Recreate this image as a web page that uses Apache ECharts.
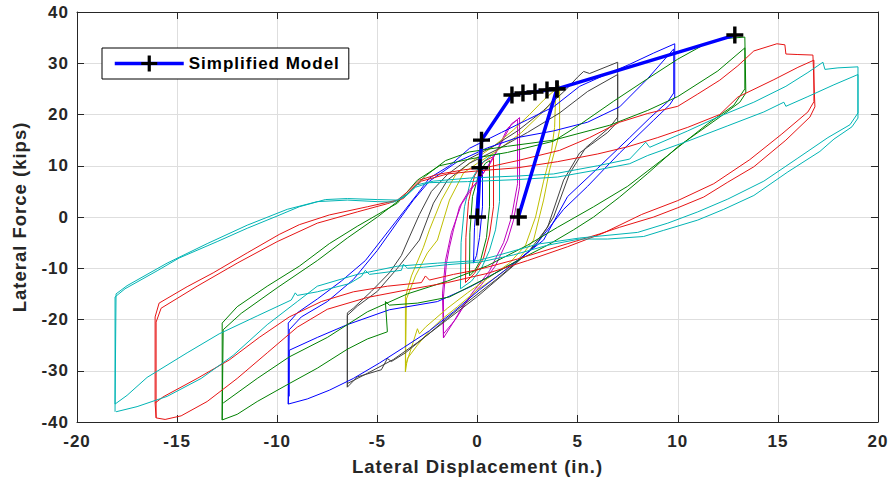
<!DOCTYPE html>
<html><head><meta charset="utf-8">
<script src="https://cdn.jsdelivr.net/npm/echarts@6/dist/echarts.min.js"></script>
<style>
html,body{margin:0;padding:0;background:#fff;}
#chart{width:891px;height:482px;}
#chart svg text{letter-spacing:1px;}
</style>
</head><body><div id="chart"></div>
<script>
// ---- axis ticks ----
const xTicks = [-20,-15,-10,-5,0,5,10,15,20];
const yTicks = [-40,-30,-20,-10,0,10,20,30,40];

// ---- measured hysteresis loops (displacement in., force kips) ----
const blueTiny = [[-0.2,-9],[-0.15,-2],[0,5],[0.15,8.5],[0.25,9.8],[0.25,2],[0.1,-4],[-0.05,-7.5],[-0.2,-9]];
const greenTiny = [[-0.4,-11.5],[-0.38,-3],[-0.25,4],[0.1,8.8],[0.4,10.5],[0.6,11],[0.6,2],[0.45,-4],[0.15,-8.5],[-0.15,-10.5],[-0.4,-11.5]];
const redTiny = [[-0.6,-12.8],[-0.58,-4],[-0.45,3],[-0.15,8],[0.3,10.8],[0.8,11.8],[0.8,2],[0.6,-3.5],[0.3,-8],[-0.15,-11],[-0.6,-12.8]];
const cyanTiny = [[-0.85,-14],[-0.82,-5],[-0.65,2],[-0.35,7],[0.2,10.5],[0.7,12],[1.1,12.4],[1.1,3],[0.9,-2.5],[0.6,-6.5],[0.2,-10],[-0.3,-12.5],[-0.85,-14]];

const magentaLoop = [[-1.7,-23.6],[-1.7,-15.6],[-1.55,-9],[-1.4,-5.9],[-1.2,-2.5],[-0.9,2],[-0.4,5.3],[0,6.8],[0.5,9.8],[1.0,13.2],[1.5,17.3],[2.1,19.4],[2.1,5.9],[1.8,-0.6],[1.5,-4.5],[0.9,-9.5],[0.2,-13.2],[-0.7,-17.2],[-1.2,-20.5],[-1.7,-23.6],
 [-1.75,-15],[-1.6,-8.5],[-1.3,-3],[-0.8,2.5],[-0.2,6],[0.6,10.2],[1.2,14.5],[1.7,18.2],[2.0,19.0],[2.0,6.5],[1.7,0],[1.3,-5],[0.6,-10.5],[-0.3,-15],[-1.1,-20],[-1.7,-22.8]];

const yellowLoop = [[-3.6,-30.2],[-3.6,-15.6],[-3.3,-11.5],[-2.7,-5.9],[-2.4,-2.5],[-1.8,3.3],[-1.1,8.2],[-0.3,10.8],[0.8,13.8],[1.8,17.0],[2.6,20.0],[3.3,22.8],[4.1,25.6],[4.1,17.0],[4.0,15.0],[3.6,9.2],[3.3,3.3],[2.8,-4.5],[2.0,-8.5],[1.0,-11.5],[0,-14.2],[-1.0,-17.5],[-1.8,-20],[-2.4,-22.2],[-3.0,-25],[-3.5,-27.6],[-3.6,-30.2],
 [-3.55,-16],[-3.1,-11.5],[-2.5,-7],[-2.0,-4.5],[-1.4,3.3],[-0.7,8.6],[0,10.5],[1.0,13],[2.2,16.5],[3.4,21],[3.9,23.5],[3.85,17.5],[3.7,13],[3.3,7],[2.9,0],[2.4,-5.5],[1.6,-9],[0.5,-12],[-0.5,-14.8],[-1.5,-17.8],[-2.6,-21.5],[-2.9,-22.8],[-3.0,-21.8],[-3.3,-25.5],[-3.55,-28.5]];

const grayLoop = [[-6.5,-33.2],[-6.5,-18.7],[-6.2,-17.8],[-5.3,-14.5],[-4.4,-10.9],[-3.8,-7.5],[-3.4,-3.9],[-2.9,0.5],[-2.3,5.0],[-1.5,8.3],[-0.5,11.2],[0.8,13.8],[2.0,16.8],[3.3,20.8],[4.4,24.8],[5.0,27.3],[5.3,28.4],[5.6,28.0],[7.0,30.2],[7.0,18.6],[6.5,16.5],[5.1,12.5],[4.3,7.2],[3.5,-2],[2.5,-7],[1.0,-12],[-1.0,-18.1],[-2.5,-23],[-3.6,-26.5],[-4.3,-28.2],[-4.5,-27.6],[-4.8,-29.8],[-6.0,-31.2],[-6.5,-33.2],
 [-6.5,-19.2],[-6.0,-17.4],[-5.0,-14.5],[-4.0,-10],[-2.9,-4.5],[-2.2,2.7],[-1.5,7.2],[-0.4,10.5],[1.0,13.2],[2.5,16.5],[4.1,20.3],[5.5,24.5],[7.0,27.8],[7.0,19.5],[6.6,17.5],[5.4,13.5],[4.6,8.5],[3.8,0],[3.0,-5],[1.8,-9.5],[0,-15.5],[-1.5,-20],[-3.0,-24.5],[-4.2,-27.8],[-5.5,-30.5],[-6.5,-32.5]];

const blueLoop = [[-9.45,-36.5],[-9.45,-20.7],[-9.0,-18.7],[-8.0,-16.0],[-6.8,-12.5],[-5.6,-8.5],[-4.4,-2.5],[-3.6,1.5],[-3.0,4.5],[-2.4,7.6],[-1.4,10.0],[-0.4,13.4],[1.2,16.5],[2.5,19.0],[3.8,21.5],[5.1,25.5],[6.3,27.6],[7.6,29.8],[8.8,32.0],[9.85,33.8],[9.85,23.4],[9.6,21.9],[8.8,18.9],[7.1,12.5],[5.5,6.0],[4.3,1.5],[3.6,-2.0],[2.8,-6],[1.5,-10],[0.1,-14.2],[-1.2,-18.5],[-2.4,-22.2],[-3.7,-25.5],[-4.9,-28.5],[-6.2,-31.5],[-7.4,-33.8],[-8.5,-35.5],[-9.45,-36.5],
 [-9.4,-22],[-8.8,-19.5],[-7.5,-16.5],[-6.2,-12.2],[-5.0,-6.5],[-4.0,-1.0],[-3.2,3.3],[-2.4,7.0],[-1.0,10.8],[0.5,13.5],[2.0,15.5],[3.8,16.8],[5.5,18.5],[7.1,21.5],[8.5,27.0],[9.8,32.8],[9.8,24.2],[9.5,22.5],[8.6,19.3],[7.6,15.5],[6.0,9.5],[4.5,4],[3.3,-4.5],[2.0,-8.5],[0.5,-11.8],[-0.4,-13.7],[-2.0,-16.5],[-4.4,-18.1],[-6.5,-21],[-8.0,-23.5],[-9.4,-26],[-9.4,-35]];

const greenLoop = [[-12.75,-39.6],[-12.75,-20.7],[-12.0,-17.5],[-10.5,-13.5],[-8.9,-9.6],[-7.4,-5.2],[-6.0,-1.8],[-4.0,2.7],[-3.0,7.2],[-1.9,10.0],[-0.4,11.3],[1.5,12.6],[3.8,14.8],[5.1,18.0],[6.8,22.6],[8.5,27.0],[10.0,30.8],[11.3,33.6],[12.3,34.8],[13.35,35.1],[13.4,24.2],[13.1,22.4],[12.1,19.5],[10.0,13.7],[8.5,8.5],[7.1,3.9],[5.8,0],[4.8,-2.5],[3.5,-5.5],[2.0,-8.5],[0.5,-11.8],[-1.4,-15.6],[-3.0,-16.8],[-4.4,-17.2],[-4.6,-16.5],[-4.5,-22.4],[-5.5,-23.8],[-6.5,-25.8],[-8.0,-29.5],[-9.4,-32.5],[-11.0,-36.0],[-12.0,-38.5],[-12.75,-39.6],
 [-12.7,-22.0],[-11.8,-18.8],[-10.0,-13.8],[-8.0,-8.5],[-6.5,-4.1],[-5.0,0],[-3.5,4.5],[-2.6,8.0],[-1.6,11.0],[-0.4,12.7],[1.5,13.8],[3.8,15.0],[6.6,17.9],[8.5,20.8],[10.0,23.5],[12.0,28.5],[13.35,33.0],[13.35,25],[12.8,21.8],[11.5,18.2],[9.5,12.0],[7.5,6.0],[5.8,2.0],[4.0,-2.0],[2.5,-5.5],[0.5,-9.5],[-1.5,-12.5],[-3.5,-15.0],[-5.5,-18.5],[-7.5,-23.5],[-9.4,-27.3],[-11.0,-31.5],[-12.7,-36.3]];

const redLoop = [[-16.1,-36.3],[-16.1,-19.5],[-15.9,-16.8],[-14.5,-13.6],[-13.2,-10.9],[-11.5,-7.0],[-9.9,-3.4],[-8.9,-1.5],[-7.4,0.4],[-5.5,2.0],[-4.0,3.3],[-3.5,4.9],[-2.9,7.2],[-2.0,8.3],[-0.7,9.2],[0.6,9.8],[2.0,11.0],[4.1,13.0],[5.6,15.5],[7.1,18.5],[8.5,20.2],[10.0,21.6],[11.0,24.0],[12.1,26.7],[13.0,29.5],[13.8,32.4],[14.95,33.8],[15.35,33.6],[15.4,31.8],[16.0,31.7],[16.75,31.6],[16.85,21.5],[16.6,19.5],[15.4,15.0],[13.8,9.8],[12.5,6.8],[11.3,3.9],[10.0,1.8],[8.8,0],[7.1,-2.0],[6.1,-3.3],[4.0,-5.8],[2.0,-8.2],[0,-10.3],[-1.2,-11.2],[-2.4,-12.3],[-2.6,-11.5],[-2.8,-12.8],[-4.5,-13.5],[-6.2,-14.6],[-7.8,-16.5],[-9.4,-19.5],[-10.9,-23.5],[-12.4,-27.9],[-14.0,-31.5],[-15.7,-35.1],[-16.1,-36.3],
 [-16.05,-39.2],[-16.05,-20.5],[-15.8,-17.8],[-14.0,-13.5],[-12.0,-9.0],[-10.0,-4.8],[-8.0,-1.2],[-6.0,1.0],[-4.5,2.6],[-3.7,3.6],[-3.3,5.4],[-2.8,7.0],[-1.5,8.4],[0,9.0],[2.0,9.6],[4.0,10.8],[6.0,12.3],[7.5,13.7],[9.0,15.5],[10.5,17.5],[12.1,20.0],[13.0,23.4],[14.8,26.8],[16.0,29.2],[16.8,30.6],[16.8,22.5],[16.5,20.5],[15.2,16.2],[13.6,11.2],[11.8,6.5],[10.0,3.2],[8.2,0.5],[6.3,-3.1],[4.5,-5.8],[2.5,-8.5],[0.5,-11.0],[-1.5,-12.8],[-3.5,-14.2],[-5.5,-15.7],[-7.5,-18.0],[-9.0,-21.5],[-10.5,-26.5],[-12.0,-31.5],[-13.5,-36.0],[-14.8,-38.8],[-15.6,-39.5],[-16.05,-39.2]];

const cyanLoop = [[-18.1,-38.0],[-18.1,-15.6],[-17.6,-14.0],[-16.0,-10.5],[-14.9,-8.0],[-13.0,-4.8],[-11.5,-2.2],[-10.0,0.2],[-8.9,2.0],[-7.6,3.4],[-6.5,3.6],[-5.0,3.4],[-4.0,3.3],[-3.5,4.5],[-3.0,6.3],[-2.2,7.0],[-0.4,7.6],[2.0,8.0],[3.8,8.4],[6.0,10.0],[7.6,11.3],[8.4,14.6],[8.6,13.6],[10.5,16.8],[12.0,19.5],[13.8,22.4],[15.4,25.5],[16.5,28.2],[17.25,30.2],[17.35,28.8],[18.0,29.1],[19.0,29.3],[19.0,19.3],[18.7,17.6],[17.8,15.2],[17.1,12.8],[15.5,8.8],[13.8,4.2],[12.3,1.5],[11.0,-0.6],[9.3,-2.6],[8.3,-3.8],[6.5,-4.3],[5.1,-4.3],[3.5,-5.5],[1.8,-7.4],[0.1,-8.8],[-1.5,-9.3],[-2.7,-9.8],[-3.5,-10.0],[-3.7,-9.2],[-3.8,-10.4],[-5.4,-11.2],[-5.6,-10.4],[-5.8,-11.6],[-6.4,-13.0],[-8.0,-14.6],[-9.0,-15.3],[-9.1,-14.8],[-9.3,-16.2],[-11.0,-19.3],[-12.9,-22.8],[-14.5,-26.5],[-16.5,-31.3],[-17.5,-34.8],[-18.1,-36.5],
 [-18.05,-15.0],[-17.5,-13.4],[-15.5,-9.0],[-13.5,-5.2],[-11.5,-1.6],[-9.5,1.5],[-8.0,3.0],[-6.5,3.3],[-5.0,3.0],[-4.2,2.9],[-3.6,4.0],[-3.1,5.8],[-2.4,6.7],[-0.5,6.9],[2.0,7.3],[4.0,7.8],[6.0,9.2],[7.6,10.4],[8.5,12.0],[10.5,14.8],[12.5,17.8],[14.3,20.5],[15.3,22.4],[15.4,21.6],[16.5,23.5],[17.8,25.8],[19.0,27.8],[19.0,20.3],[18.6,18.0],[17.5,15.5],[16.0,11.5],[14.3,7.0],[12.5,3.5],[11.0,1.0],[9.5,-1.2],[8.0,-3.0],[5.1,-4.1],[3.0,-5.3],[1.0,-7.5],[0,-8.5],[-2.0,-9.0],[-4.0,-9.6],[-6.0,-11.2],[-8.0,-13.5],[-9.0,-16.5],[-10.5,-21.0],[-12.2,-27.0],[-13.8,-31.5],[-15.5,-35.0],[-17.0,-37.0],[-18.05,-38.0]];

// ---- simplified model points ----
const modelPts = [[0,0],[0.12,9.6],[0.2,15.0],[1.72,23.8],[2.27,24.2],[2.87,24.4],[3.47,24.8],[3.97,25.0],[12.85,35.5],[3.97,25.0],[2.04,0]];

const FONT = "'Liberation Sans', Arial, Helvetica, sans-serif";
const AX = '#262626';
const plusPath = 'path://M8,0H12V8H20V12H12V20H8V12H0V8H8Z';

const loops = [
  [blueTiny,'#0000ff'],[greenTiny,'#008000'],[redTiny,'#e61414'],[cyanTiny,'#00b4b4'],
  [magentaLoop,'#bf00bf'],[yellowLoop,'#bfbf00'],[grayLoop,'#404040'],
  [blueLoop,'#0000ff'],[greenLoop,'#008000'],[redLoop,'#e61414'],[cyanLoop,'#00b4b4']
];

const series = loops.map(function(l){
  return {type:'line', data:l[0], symbol:'none', silent:true,
    lineStyle:{color:l[1], width:1}, itemStyle:{color:l[1]}, z:2};
});
series.push({
  name:'Simplified Model', type:'line', data:modelPts,
  symbol:plusPath, symbolSize:17, showAllSymbol:true,
  lineStyle:{color:'#0000ff', width:3.5}, itemStyle:{color:'#000000'}, z:10
});

const axisCommon = {
  type:'value', axisLine:{show:true, onZero:false, lineStyle:{color:AX, width:1}},
  axisTick:{show:true, inside:true, length:7, lineStyle:{color:AX}}
};

const chart = echarts.init(document.getElementById('chart'), null, {renderer:'svg'});
chart.setOption({
  animation:false,
  backgroundColor:'#ffffff',
  grid:{left:77, right:13, top:12, bottom:60, containLabel:false},
  legend:{
    data:['Simplified Model'], left:102, top:48,
    backgroundColor:'#ffffff', borderColor:'#000000', borderWidth:1, borderRadius:0,
    padding:[7,25,7,11], itemWidth:69, itemHeight:20,
    lineStyle:{width:3.5, color:'#0000ff'},
    textStyle:{fontFamily:FONT, fontWeight:'bold', fontSize:17, color:'#000'}
  },
  xAxis:[
    Object.assign({}, axisCommon, {
      position:'bottom', min:xTicks[0], max:xTicks[xTicks.length-1], interval:5,
      axisLabel:{fontFamily:FONT, fontWeight:'bold', fontSize:17, color:AX, margin:11},
      splitLine:{show:true, lineStyle:{color:'#dedede', width:1}},
      name:'Lateral Displacement (in.)', nameLocation:'middle', nameGap:35,
      nameTextStyle:{fontFamily:FONT, fontWeight:'bold', fontSize:18.5, color:AX}
    }),
    Object.assign({}, axisCommon, {
      position:'top', min:xTicks[0], max:xTicks[xTicks.length-1], interval:5,
      axisLabel:{show:false}, splitLine:{show:false}
    })
  ],
  yAxis:[
    Object.assign({}, axisCommon, {
      position:'left', min:yTicks[0], max:yTicks[yTicks.length-1], interval:10,
      axisLabel:{fontFamily:FONT, fontWeight:'bold', fontSize:17, color:AX, margin:8},
      splitLine:{show:true, lineStyle:{color:'#dedede', width:1}},
      name:'Lateral Force (kips)', nameLocation:'middle', nameGap:48,
      nameTextStyle:{fontFamily:FONT, fontWeight:'bold', fontSize:18.5, color:AX}
    }),
    Object.assign({}, axisCommon, {
      position:'right', min:yTicks[0], max:yTicks[yTicks.length-1], interval:10,
      axisLabel:{show:false}, splitLine:{show:false}
    })
  ],
  series:series
});
</script>
</body></html>
